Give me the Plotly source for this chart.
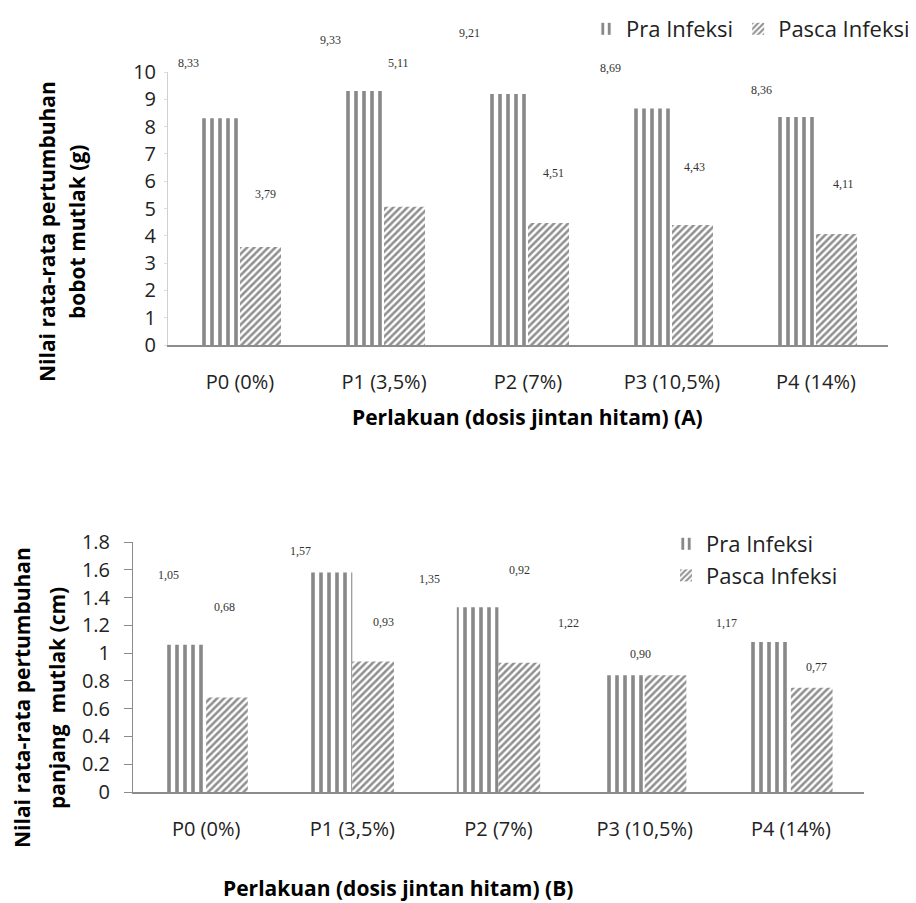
import plotly.graph_objects as go

# ---------------- data ----------------
categories = ["P0 (0%)", "P1 (3,5%)", "P2 (7%)", "P3 (10,5%)", "P4 (14%)"]

bobot_pra = [8.31, 9.30, 9.19, 8.66, 8.35]
bobot_pasca = [3.59, 5.06, 4.47, 4.40, 4.07]
bobot_pra_labels = ["8,33", "9,33", "9,21", "8,69", "8,36"]
bobot_pasca_labels = ["3,79", "5,11", "4,51", "4,43", "4,11"]

panjang_pra = [1.06, 1.58, 1.33, 0.84, 1.08]
panjang_pasca = [0.68, 0.94, 0.93, 0.84, 0.75]
panjang_pra_labels = ["1,05", "1,57", "1,35", "1,22", "1,17"]
panjang_pasca_labels = ["0,68", "0,93", "0,92", "0,90", "0,77"]

series_names = ["Pra Infeksi", "Pasca Infeksi"]

# -------------- label offsets (pixels, style only) --------------
top_pra_dx = [-52, -54, -59, -62, -55]
top_pra_dy = [55, 51, 61, 41, 27]
top_pasca_dx = [25, 14, 25, 22, 27]
top_pasca_dy = [53, 144, 50, 58, 50]
bot_pra_dx = [-38, -52, -69, -76, -64]
bot_pra_dy = [70, 22, 28, 52, 19]
bot_pasca_dx = [18, 31, 21, -4, 26]
bot_pasca_dy = [91, 39, 93, 21, 21]

W, H = 916, 903
OFF = 8  # page body margin


def PX(x):
    return (x - OFF) / W


def PY(y):
    return 1 - (y - OFF) / H


FONT = "Open Sans"
AX_COLOR = "#8c8c8c"

pra_pattern = dict(shape="|", fgcolor="#111111", bgcolor="white", size=8, solidity=0.45)
pasca_pattern = dict(shape="/", fgcolor="#222222", bgcolor="white", size=5, solidity=0.52)

fig = go.Figure()

fig.add_trace(go.Bar(x=categories, y=bobot_pra, name=series_names[0], xaxis="x", yaxis="y",
                     marker=dict(color="white", pattern=pra_pattern, line=dict(width=0)),
                     legend="legend", legendgroup="a"))
fig.add_trace(go.Bar(x=categories, y=bobot_pasca, name=series_names[1], xaxis="x", yaxis="y",
                     marker=dict(color="white", pattern=pasca_pattern, line=dict(width=0)),
                     legend="legend", legendgroup="b"))
fig.add_trace(go.Bar(x=categories, y=panjang_pra, name=series_names[0], xaxis="x2", yaxis="y2",
                     marker=dict(color="white", pattern=pra_pattern, line=dict(width=0)),
                     legend="legend2", legendgroup="c"))
fig.add_trace(go.Bar(x=categories, y=panjang_pasca, name=series_names[1], xaxis="x2", yaxis="y2",
                     marker=dict(color="white", pattern=pasca_pattern, line=dict(width=0)),
                     legend="legend2", legendgroup="d"))

annotations = []


def add_labels(xref, yref, vals, labels, dxs, dys):
    for c, v, t, dx, dy in zip(categories, vals, labels, dxs, dys):
        annotations.append(dict(x=c, y=v, xref=xref, yref=yref, text=t, showarrow=False,
                                xshift=dx, yshift=dy, xanchor="center", yanchor="middle",
                                font=dict(family="Liberation Serif", size=12, color="#333")))


add_labels("x", "y", bobot_pra, bobot_pra_labels, top_pra_dx, top_pra_dy)
add_labels("x", "y", bobot_pasca, bobot_pasca_labels, top_pasca_dx, top_pasca_dy)
add_labels("x2", "y2", panjang_pra, panjang_pra_labels, bot_pra_dx, bot_pra_dy)
add_labels("x2", "y2", panjang_pasca, panjang_pasca_labels, bot_pasca_dx, bot_pasca_dy)

# axis titles as annotations
title_font = dict(family=FONT, size=21, color="black")
annotations.append(dict(text="<b>Perlakuan (dosis jintan hitam) (A)</b>", xref="paper", yref="paper",
                        x=PX(527), y=PY(417), showarrow=False, xanchor="center", yanchor="middle",
                        font=title_font))
annotations.append(dict(text="<b>Perlakuan (dosis jintan hitam) (B)</b>", xref="paper", yref="paper",
                        x=PX(398), y=PY(888), showarrow=False, xanchor="center", yanchor="middle",
                        font=title_font))
for txt, xc, yc in [("Nilai rata-rata pertumbuhan", 47, 232), ("bobot mutlak (g)", 77, 232),
                    ("Nilai rata-rata pertumbuhan", 22, 698), ("panjang  mutlak (cm)", 57, 698)]:
    annotations.append(dict(text="<b>" + txt.replace("  ", "&nbsp; ") + "</b>", xref="paper", yref="paper",
                            x=PX(xc), y=PY(yc), showarrow=False, textangle=-90, xanchor="center",
                            yanchor="middle", font=title_font))

tick_font = dict(family=FONT, size=20, color="#222")
legend_font = dict(family=FONT, size=22, color="#222")

fig.update_layout(
    width=W, height=H,
    margin=dict(l=0, r=0, t=0, b=0, autoexpand=False),
    paper_bgcolor="white", plot_bgcolor="white",
    barmode="group", bargap=0.43, bargroupgap=0,
    font=dict(family=FONT, color="#222"),
    xaxis=dict(domain=[PX(168), PX(888)], anchor="y", showline=True, linecolor=AX_COLOR, linewidth=1.5,
               showgrid=False, ticks="", tickfont=tick_font, ticklabelstandoff=18),
    yaxis=dict(domain=[PY(345), PY(72)], anchor="x", range=[0, 10], dtick=1, showgrid=False,
               zeroline=False, showline=True, linecolor="#d0d0d0", linewidth=1,
               ticks="outside", ticklen=3, tickcolor="#dddddd",
               tickfont=tick_font, ticklabelstandoff=4),
    xaxis2=dict(domain=[PX(133), PX(864)], anchor="y2", showline=True, linecolor=AX_COLOR, linewidth=1.5,
                showgrid=False, ticks="", tickfont=tick_font, ticklabelstandoff=18),
    yaxis2=dict(domain=[PY(792), PY(542)], anchor="x2", range=[0, 1.8], dtick=0.2, showgrid=False,
                zeroline=False, showline=True, linecolor=AX_COLOR, linewidth=1, ticks="outside",
                ticklen=8, tickcolor=AX_COLOR, tickfont=tick_font, tickformat="~g", ticklabelstandoff=10),
    legend=dict(orientation="h", x=PX(627 - 41), y=1.0, xanchor="left", yanchor="top",
                font=legend_font, bgcolor="rgba(0,0,0,0)"),
    legend2=dict(orientation="v", x=PX(707 - 41), y=PY(523), xanchor="left", yanchor="top",
                 font=legend_font, bgcolor="rgba(0,0,0,0)", tracegroupgap=0),
    annotations=annotations,
)

fig.write_html("out.html")
